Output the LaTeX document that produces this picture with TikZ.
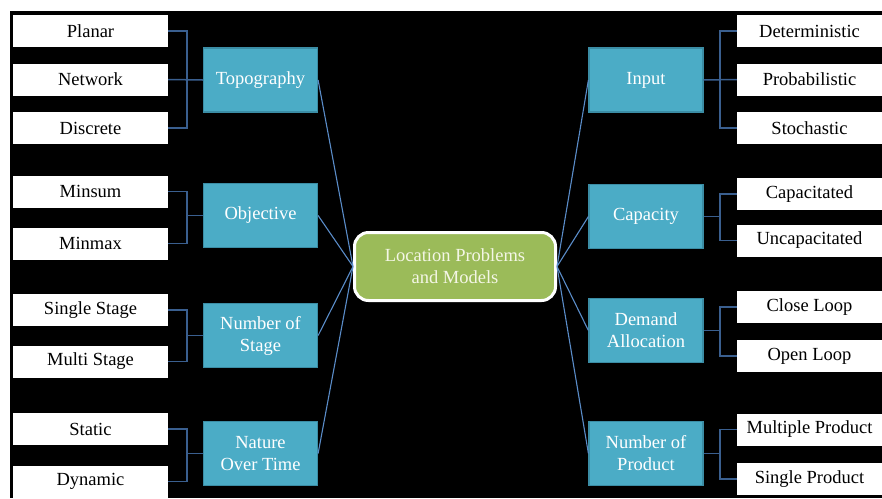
\documentclass[tikz,border=0pt]{standalone}
\usepackage{fontspec}
\setmainfont{Liberation Serif}
\usepackage{tikz}
\usetikzlibrary{positioning,calc}
\definecolor{catfill}{HTML}{4BACC6}
\definecolor{catedge}{HTML}{3B8DA5}
\definecolor{hubfill}{HTML}{9BBB59}
\definecolor{hubtext}{HTML}{F4F6E6}
\definecolor{spokeblue}{HTML}{5A8CC8}
\definecolor{forkblue}{HTML}{3A5F8F}

\begin{document}
\begin{tikzpicture}[
    x=1pt, y=-1pt,
    leaf/.style={rectangle, fill=white, text=black, minimum width=155pt, minimum height=32pt, inner sep=0pt, font=\fontsize{18.5}{22}\selectfont},
    rleaf/.style={leaf, minimum width=145pt},
    cat/.style={rectangle, fill=catfill, draw=catedge, line width=1.2pt, minimum width=114pt, minimum height=64pt, inner sep=0pt, align=center, text=white, font=\fontsize{18.5}{22}\selectfont},
    hub/.style={rectangle, rounded corners=14pt, fill=hubfill, draw=white, line width=3pt, minimum width=201pt, minimum height=68pt, align=center, text=hubtext, font=\fontsize{18.5}{22}\selectfont},
    spoke/.style={draw=spokeblue, line width=1.1pt},
    fork/.style={draw=forkblue, line width=1.5pt}
]
    % Page and background
    \fill[white] (0,0) rectangle (882,498);
    \fill[black] (10,11) rectangle (882,498);
    \useasboundingbox (0,0) rectangle (882,498);

    % Centre
    \node[hub] (hub) at (455,266.5) {Location Problems\\and Models};

    % Left categories
    \node[cat] (topo) at (260.5,80) {Topography};
    \node[cat] (obj) at (260.5,215.5) {Objective};
    \node[cat] (stage) at (260.5,335.5) {Number of\\Stage};
    \node[cat] (nature) at (260.5,453.5) {Nature\\Over Time};

    % Right categories
    \node[cat] (input) at (646,80) {Input};
    \node[cat] (capa) at (646,216.5) {Capacity};
    \node[cat] (demand) at (646,330.5) {Demand\\Allocation};
    \node[cat] (product) at (646,453.5) {Number of\\Product};

    % Left leaves
    \node[leaf] (planar) at (90.5,31) {Planar};
    \node[leaf] (network) at (90.5,79.5) {Network};
    \node[leaf] (discrete) at (90.5,128) {Discrete};
    \node[leaf] (minsum) at (90.5,191.5) {Minsum};
    \node[leaf] (minmax) at (90.5,243.5) {Minmax};
    \node[leaf] (single) at (90.5,310) {Single Stage};
    \node[leaf] (multi) at (90.5,361.5) {Multi Stage};
    \node[leaf] (static) at (90.5,429) {Static};
    \node[leaf] (dynamic) at (90.5,481.5) {Dynamic};

    % Right leaves
    \node[rleaf] (determ) at (809.5,31) {Deterministic};
    \node[rleaf] (probab) at (809.5,79.5) {Probabilistic};
    \node[rleaf] (stoch) at (809.5,128) {Stochastic};
    \node[rleaf] (capd) at (809.5,194) {Capacitated};
    \node[rleaf] (uncapd) at (809.5,240.5) {Uncapacitated};
    \node[rleaf] (close) at (809.5,307) {Close Loop};
    \node[rleaf] (open) at (809.5,356) {Open Loop};
    \node[rleaf] (multiprod) at (809.5,429.5) {Multiple Product};
    \node[rleaf] (singleprod) at (809.5,479) {Single Product};

    % Spokes to the centre
    \draw[spoke] (topo.east) -- (hub.west);
    \draw[spoke] (obj.east) -- (hub.west);
    \draw[spoke] (stage.east) -- (hub.west);
    \draw[spoke] (nature.east) -- (hub.west);
    \draw[spoke] (input.west) -- (hub.east);
    \draw[spoke] (capa.west) -- (hub.east);
    \draw[spoke] (demand.west) -- (hub.east);
    \draw[spoke] (product.west) -- (hub.east);

    % Left forks
    \draw[fork] (planar.east) -- ++(19,0) |- (discrete.east);
    \draw[fork] (network.east) -- (topo.west);
    \draw[fork] (minsum.east) -- ++(19,0) |- (minmax.east);
    \draw[fork] (obj.west) -- ++(-16,0);
    \draw[fork] (single.east) -- ++(19,0) |- (multi.east);
    \draw[fork] (stage.west) -- ++(-16,0);
    \draw[fork] (static.east) -- ++(19,0) |- (dynamic.east);
    \draw[fork] (nature.west) -- ++(-16,0);

    % Right forks
    \draw[fork] (determ.west) -- ++(-17,0) |- (stoch.west);
    \draw[fork] (input.east) -- (probab.west);
    \draw[fork] (capd.west) -- ++(-17,0) |- (uncapd.west);
    \draw[fork] (capa.east) -- ++(16,0);
    \draw[fork] (close.west) -- ++(-17,0) |- (open.west);
    \draw[fork] (demand.east) -- ++(16,0);
    \draw[fork] (multiprod.west) -- ++(-17,0) |- (singleprod.west);
    \draw[fork] (product.east) -- ++(16,0);
\end{tikzpicture}
\end{document}
